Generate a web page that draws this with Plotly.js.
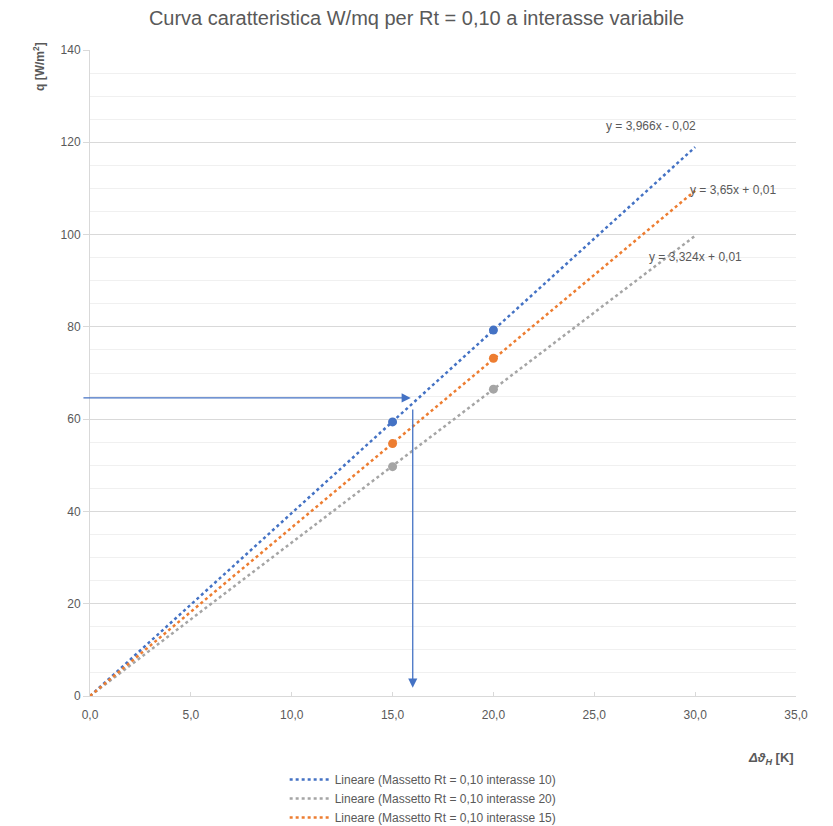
<!DOCTYPE html>
<html><head><meta charset="utf-8">
<script src="https://cdn.plot.ly/plotly-3.0.1.min.js"></script>
<style>body{margin:0;background:#fff}#chart{width:833px;height:826px}</style>
</head><body><div id="chart"></div>
<script>
// Data
const seriesNames = ["Massetto Rt = 0,10 interasse 10", "Massetto Rt = 0,10 interasse 20", "Massetto Rt = 0,10 interasse 15"];
const colors = ["#4472C4", "#A5A5A5", "#ED7D31"];
const pointX = [15, 20];
const q10 = [59.4, 79.3];
const q20 = [49.7, 66.5];
const q15 = [54.7, 73.2];
// Linear trendlines (equations as labelled on the chart)
const slopes = [3.966, 3.324, 3.65];
const intercepts = [-0.02, 0.01, 0.01];
const trendX = [0, 30];
const eqLabels = ["y = 3,966x - 0,02", "y = 3,324x + 0,01", "y = 3,65x + 0,01"];
const eqPos = [[27.8, 123.5], [30.0, 95.2], [31.9, 109.7]];
// Reading arrows
const readQ = 64.6;
const readDT = 16.0;

const pts = [q10, q20, q15];
const font = "Liberation Sans, Arial, sans-serif";
const traces = [];
for (let i = 0; i < 3; i++) {
  traces.push({
    x: trendX, y: trendX.map(v => slopes[i] * v + intercepts[i]),
    mode: "lines", name: "Lineare (" + seriesNames[i] + ")",
    line: {color: colors[i], dash: "dot", width: 2.5}, hoverinfo: "skip"
  });
}
for (let i = 0; i < 3; i++) {
  traces.push({
    x: pointX, y: pts[i], mode: "markers", showlegend: false,
    marker: {color: colors[i], size: 9}
  });
}
const annotations = eqLabels.map((t, i) => ({
  x: eqPos[i][0], y: eqPos[i][1], xref: "x", yref: "y", text: t, showarrow: false,
  font: {family: font, size: 12, color: "#595959"}
}));
annotations.push({
  x: readDT - 0.1, y: readQ, ax: -0.4, ay: readQ, xref: "x", yref: "y", axref: "x", ayref: "y",
  showarrow: true, arrowhead: 2, arrowsize: 1.4, arrowwidth: 1.3, arrowcolor: "#4472C4", text: ""
});
annotations.push({
  x: readDT, y: 1.8, ax: readDT, ay: 62.4, xref: "x", yref: "y", axref: "x", ayref: "y",
  showarrow: true, arrowhead: 2, arrowsize: 1.4, arrowwidth: 1.3, arrowcolor: "#4472C4", text: ""
});
annotations.push({
  xref: "paper", yref: "paper", x: -0.072, y: 1.015, xanchor: "center", yanchor: "top",
  text: "<b>q [W/m<sup>2</sup>]</b>", textangle: -90, showarrow: false,
  font: {family: font, size: 12, color: "#595959"}
});
annotations.push({
  xref: "paper", yref: "paper", x: 1.0, y: -0.097, xanchor: "right", yanchor: "middle",
  text: "<b><i>Δϑ<sub>H</sub></i> [K]</b>", showarrow: false,
  font: {family: font, size: 13, color: "#595959"}
});

const layout = {
  width: 833, height: 826,
  margin: {l: 90, r: 37, t: 50, b: 130, autoexpand: false},
  paper_bgcolor: "#fff", plot_bgcolor: "#fff",
  separators: ",.",
  font: {family: font, color: "#595959", size: 12},
  title: {text: "Curva caratteristica W/mq per Rt = 0,10 a interasse variabile",
          x: 0.5, xanchor: "center", y: 0.978, yanchor: "middle",
          font: {family: font, size: 20, color: "#595959"}},
  xaxis: {range: [0, 35], dtick: 5, tickformat: ".1f", showgrid: false, zeroline: false,
          showline: true, linecolor: "#d9d9d9", ticks: "inside", ticklen: 4, tickcolor: "#d9d9d9",
          ticklabelstandoff: 8,
          tickfont: {size: 12, color: "#595959"}, fixedrange: true},
  yaxis: {range: [0, 140], dtick: 20, showgrid: true, gridcolor: "#d9d9d9", zeroline: false,
          showline: true, linecolor: "#d9d9d9", ticks: "outside", ticklen: 6, tickcolor: "#d9d9d9",
          minor: {dtick: 5, showgrid: true, gridcolor: "#f0f0f0", ticks: ""},
          tickfont: {size: 12, color: "#595959"}, fixedrange: true},
  legend: {orientation: "v", xref: "container", yref: "container", x: 0.508, xanchor: "center",
           y: 0.074, yanchor: "top",
           font: {family: font, size: 12, color: "#595959"}, tracegroupgap: 0, itemwidth: 40},
  showlegend: true,
  annotations: annotations
};
Plotly.newPlot("chart", traces, layout, {displayModeBar: false, staticPlot: true});
</script></body></html>
